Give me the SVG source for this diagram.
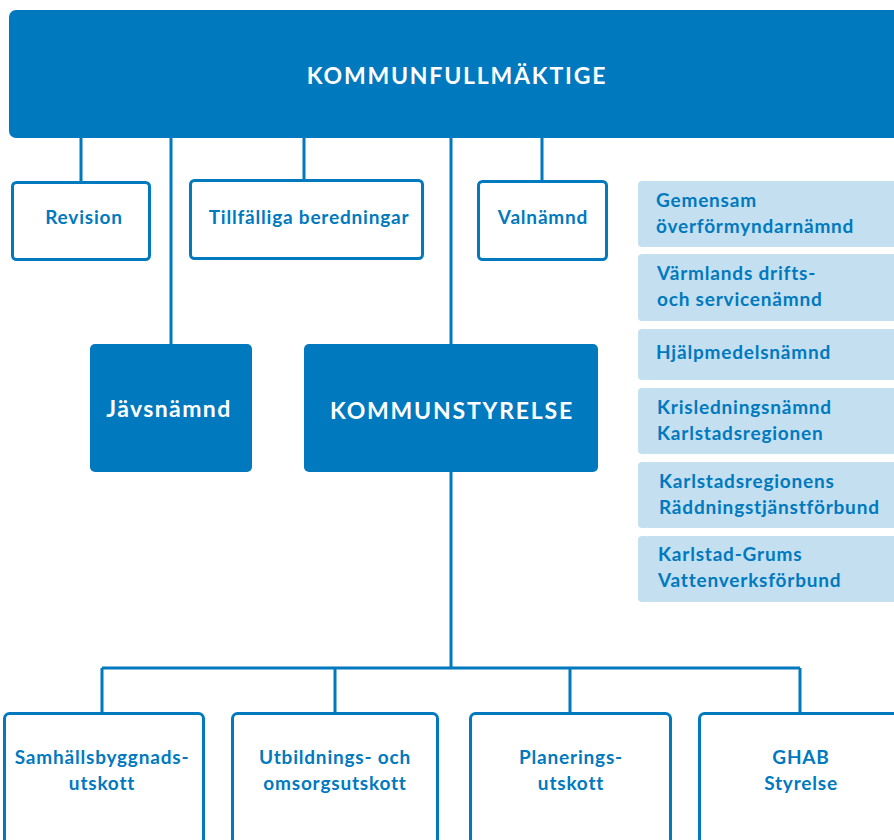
<svg xmlns="http://www.w3.org/2000/svg" width="894" height="840" viewBox="0 0 894 840">
<style>
.dark{fill:#0079BF}
.out{fill:#fff;stroke:#0079BF;stroke-width:3}
.lite{fill:#C3DFF0}
.ln{stroke:#0079BF;stroke-width:3;fill:none}
text{font-family:Lato,"Open Sans",sans-serif;font-weight:700;font-size:19px;letter-spacing:0.8px}
.w{fill:#fff}
.b{fill:#0079BF}
.m{text-anchor:middle}
.big{font-size:23px;letter-spacing:1.8px}
</style>
<rect width="894" height="840" fill="#fff"/>
<g id="connectors">
<path class="ln" d="M81 138V182M171 138V344M304 138V180M451 138V344M542 138V181"/>
<path class="ln" d="M451 472V668M102 668H800M102 668V713M335 668V713M570 668V713M800 668V713"/>
</g>
<g id="kommunfullmaktige">
<rect class="dark" x="9" y="10" width="900" height="128" rx="7"/>
<text class="w m big" x="457" y="84">KOMMUNFULLMÄKTIGE</text>
</g>
<g id="revision">
<rect class="out" x="12.5" y="182.5" width="137" height="77" rx="4"/>
<text class="b m" x="84" y="224">Revision</text>
</g>
<g id="tillfalliga">
<rect class="out" x="190.5" y="180.5" width="232" height="78" rx="4"/>
<text class="b m" x="309" y="224">Tillfälliga beredningar</text>
</g>
<g id="valnamnd">
<rect class="out" x="478.5" y="181.5" width="128" height="78" rx="4"/>
<text class="b m" x="543" y="224">Valnämnd</text>
</g>
<g id="javsnamnd">
<rect class="dark" x="90" y="344" width="162" height="128" rx="5"/>
<text class="w m big" x="169" y="417" style="letter-spacing:1.4px">Jävsnämnd</text>
</g>
<g id="kommunstyrelse">
<rect class="dark" x="304" y="344" width="294" height="128" rx="5"/>
<text class="w m big" x="452" y="419">KOMMUNSTYRELSE</text>
</g>
<g id="gemensam">
<rect class="lite" x="638" y="181" width="270" height="66" rx="4"/>
<text class="b" x="656" y="207">Gemensam</text>
<text class="b" x="656" y="233">överförmyndarnämnd</text>
</g>
<g id="varmlands">
<rect class="lite" x="638" y="254" width="270" height="67" rx="4"/>
<text class="b" x="657" y="280">Värmlands drifts-</text>
<text class="b" x="657" y="306">och servicenämnd</text>
</g>
<g id="hjalpmedel">
<rect class="lite" x="638" y="329" width="270" height="51" rx="4"/>
<text class="b" x="656" y="359">Hjälpmedelsnämnd</text>
</g>
<g id="krisledning">
<rect class="lite" x="638" y="388" width="270" height="66" rx="4"/>
<text class="b" x="657" y="414">Krisledningsnämnd</text>
<text class="b" x="657" y="440">Karlstadsregionen</text>
</g>
<g id="raddning">
<rect class="lite" x="638" y="462" width="270" height="66" rx="4"/>
<text class="b" x="659" y="488">Karlstadsregionens</text>
<text class="b" x="659" y="514">Räddningstjänstförbund</text>
</g>
<g id="vattenverk">
<rect class="lite" x="638" y="536" width="270" height="66" rx="4"/>
<text class="b" x="658" y="561">Karlstad-Grums</text>
<text class="b" x="658" y="587">Vattenverksförbund</text>
</g>
<g id="samhallsbyggnad">
<rect class="out" x="4.5" y="713.5" width="199" height="140" rx="5"/>
<text class="b m" x="102" y="764">Samhällsbyggnads-</text>
<text class="b m" x="102" y="790">utskott</text>
</g>
<g id="utbildning">
<rect class="out" x="232.5" y="713.5" width="205" height="140" rx="5"/>
<text class="b m" x="335" y="764">Utbildnings- och</text>
<text class="b m" x="335" y="790">omsorgsutskott</text>
</g>
<g id="planering">
<rect class="out" x="470.5" y="713.5" width="200" height="140" rx="5"/>
<text class="b m" x="571" y="764">Planerings-</text>
<text class="b m" x="571" y="790">utskott</text>
</g>
<g id="ghab">
<rect class="out" x="699.5" y="713.5" width="220" height="140" rx="5"/>
<text class="b m" x="801" y="764">GHAB</text>
<text class="b m" x="801" y="790">Styrelse</text>
</g>
</svg>
